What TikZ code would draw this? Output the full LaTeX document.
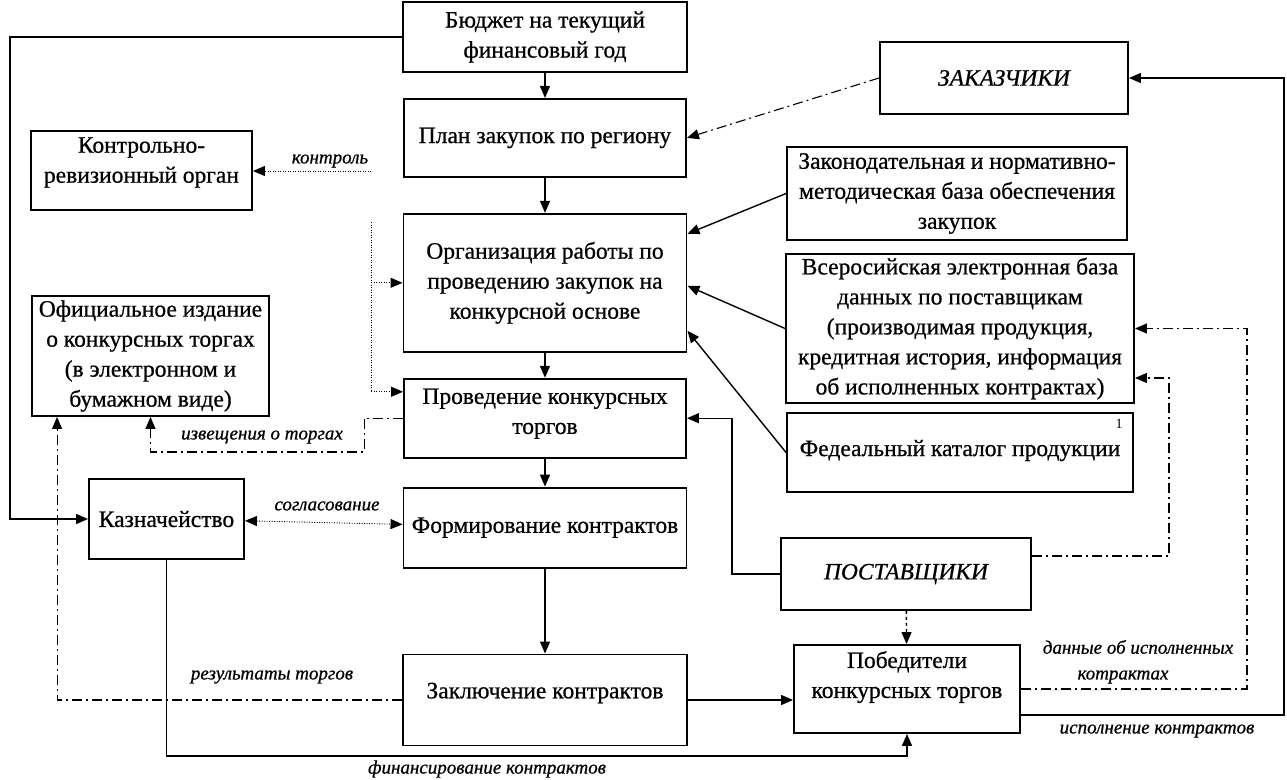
\documentclass[tikz,border=0pt]{standalone}
\usepackage{fontspec}
\setmainfont{Liberation Serif}
\newfontfamily\boxfont{Liberation Serif}[FakeBold=0.7]
\usetikzlibrary{arrows.meta,positioning}

\begin{document}
\begin{tikzpicture}[
    x=1pt,y=-1pt,
    box/.style={rectangle,draw,line width=1.9pt,align=center,inner sep=2pt,
                font=\boxfont\fontsize{23.5}{30}\selectfont},
    txtup/.style={text depth=#1},
    lbl/.style={font=\boxfont\fontsize{19}{21}\selectfont\itshape,inner sep=1pt},
    ddline/.style={line width=1.1pt,dash pattern=on 10pt off 4pt on 2pt off 4pt},
    dotline/.style={line width=0.9pt,dash pattern=on 1pt off 1.5pt},
    >={Triangle[length=12pt,width=10pt]},line width=1.4pt
  ]
    \useasboundingbox (0,0) rectangle (1287,779);

    % central column
    \node[box,minimum width=284pt,minimum height=70pt] (budget) at (545,37) {Бюджет на текущий\\финансовый год};
    \node[box,minimum width=282pt,minimum height=78pt,below=25pt of budget] (plan) {План закупок по региону};
    \node[box,minimum width=283pt,minimum height=138pt,below=35pt of plan] (org) {Организация работы по\\проведению закупок на\\конкурсной основе};
    \node[box,minimum width=282pt,minimum height=79pt,below=25pt of org,txtup=14pt] (proved) {Проведение конкурсных\\торгов};
    \node[box,minimum width=283pt,minimum height=80pt,below=28pt of proved] (form) {Формирование контрактов};
    \node[box,minimum width=284pt,minimum height=91pt,below=85pt of form,txtup=19pt] (zakl) {Заключение контрактов};

    % left column
    \node[box,minimum width=221pt,minimum height=79pt,txtup=21pt] (ctrl) at (141.5,170.5) {Контрольно-\\ревизионный орган};
    \node[box,minimum width=237pt,minimum height=120pt] (izd) at (150.5,356) {Официальное издание\\о конкурсных торгах\\(в электронном и\\бумажном виде)};
    \node[box,minimum width=155pt,minimum height=80pt] (kazna) at (166.5,519) {Казначейство};

    % right column
    \node[box,minimum width=248pt,minimum height=72pt] (zakaz) at (1004,78) {\itshape ЗАКАЗЧИКИ};
    \node[box,minimum width=340pt,minimum height=93pt] (zakon) at (957,193.5) {Законодательная и нормативно-\\методическая база обеспечения\\закупок};
    \node[box,minimum width=348pt,minimum height=149pt] (baza) at (960,328.5) {Всеросийская электронная база\\данных по поставщикам\\(производимая продукция,\\кредитная история, информация\\об исполненных контрактах)};
    \node[box,minimum width=346pt,minimum height=79pt,txtup=9pt] (katalog) at (960,452.5) {Федеальный каталог продукции};
    \node[font=\fontsize{14}{14}\selectfont,inner sep=0pt] (num) at (1119,424) {1};
    \node[box,minimum width=250pt,minimum height=72pt] (post) at (906,574) {\itshape ПОСТАВЩИКИ};
    \node[box,minimum width=226pt,minimum height=88pt,txtup=29pt] (pobed) at (907,689) {Победители\\конкурсных торгов};

    % main flow
    \draw[->] (budget) -- (plan);
    \draw[->] (plan) -- (org);
    \draw[->] (org) -- (proved);
    \draw[->] (proved) -- (form);
    \draw[->] (form) -- (zakl);
    \draw[->] (zakl.east) -- (zakl.east -| pobed.west);
    \draw[->] (budget.west) -| (10,300) |- (kazna.west);

    % sources on the right
    \draw[->,ddline] (zakaz.west) -- (plan.east);
    \draw[->] (zakon.west) -- ([yshift=49pt]org.east);
    \draw[->] (baza.west) -- ([yshift=-3pt]org.east);
    \draw[->] (katalog.west) -- ([yshift=-48pt]org.east);
    \draw[->] (post.west) -- ++(-48,0) |- (proved.east);
    \draw[->,dashed] (post) -- (pobed);

    % feedback
    \draw[->] ([yshift=-26pt]pobed.east) -- ++(263,0) |- (zakaz.east);
    \draw[->,ddline] (pobed.east) -- ++(226,0) |- (baza.east);
    \draw[->,ddline] ([yshift=18pt]post.east) -- ++(137,0) |- ([yshift=-49.5pt]baza.east);
    \node[lbl] (dan1) at (1138,647) {данные об исполненных};
    \node[lbl] (dan2) at (1123,677) {котрактах};
    \node[lbl] (isp) at (1157,731) {исполнение контрактов};

    % left links
    \draw[->] (kazna.south) -- (kazna.south |- 0,756) -| (pobed.south);
    \node[lbl] (fin) at (487,769) {финансирование контрактов};
    \draw[->,ddline] (zakl.west) -| ([xshift=26pt]izd.south west);
    \node[lbl] (res) at (272,677) {результаты торгов};
    \draw[->,ddline] (proved.west) -- ++(-39,0) |- (izd.south |- 0,452) -- (izd.south);
    \node[lbl] (izv) at (262,437) {извещения о торгах};
    \draw[<->,dotline] (kazna) -- (form);
    \node[lbl] (sogl) at (327,506) {согласование};

    % control
    \coordinate (kp) at (371,171);
    \coordinate (vtop) at (371,222);
    \draw[->,dotline] (kp) -- (kp -| ctrl.east);
    \node[lbl] (kontr) at (330,161) {контроль};
    \draw[->,dotline] (vtop) |- ([yshift=-14pt]proved.north west);
    \draw[->,dotline] (vtop |- org.west) -- (org.west);
\end{tikzpicture}
\end{document}
